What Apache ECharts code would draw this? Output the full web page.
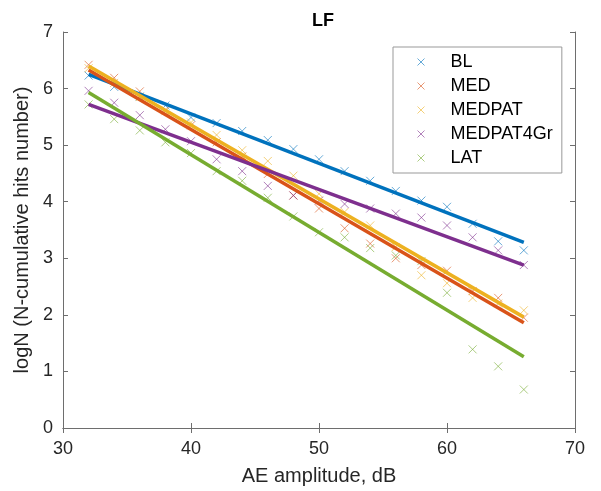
<!DOCTYPE html>
<html lang="en">
<head>
<meta charset="UTF-8">
<title>LF</title>
<script src="https://cdn.jsdelivr.net/npm/echarts@6/dist/echarts.min.js"></script>
<style>
  html, body { margin: 0; padding: 0; background: #fff; }
  #main { width: 601px; height: 491px; }
</style>
</head>
<body>
<div id="main"></div>
<script>
// amplitudes (dB)
var amp = [32, 34, 36, 38, 40, 42, 44, 46, 48, 50, 52, 54, 56, 58, 60, 62, 64, 66];

// logN values
var bl        = [6.23, 6.03, 5.86, 5.70, 5.49, 5.39, 5.25, 5.09, 4.93, 4.75, 4.54, 4.37, 4.19, 4.02, 3.91, 3.61, 3.30, 3.14];
var med       = [6.42, 6.19, 5.95, 5.62, 5.35, 5.05, 4.80, 4.49, 4.11, 3.88, 3.53, 3.26, 3.00, 2.88, 2.78, 2.42, 2.30, 1.95];
var medpat    = [6.36, 6.10, 5.85, 5.60, 5.40, 5.18, 4.91, 4.72, 4.46, 4.14, 3.82, 3.58, 3.20, 2.70, 2.56, 2.30, 2.20, 2.08];
var medpat4gr = [5.96, 5.75, 5.53, 5.28, 5.07, 4.75, 4.54, 4.28, 4.11, 4.02, 3.96, 3.88, 3.79, 3.72, 3.58, 3.37, 3.14, 2.88];
var lat       = [5.72, 5.46, 5.26, 5.05, 4.86, 4.54, 4.37, 4.07, 3.74, 3.46, 3.37, 3.18, 3.05, 2.95, 2.39, 1.39, 1.09, 0.68];

// fitted lines, endpoints at 32 and 66 dB
var fitX = [32, 66];
var fitBL        = [6.25, 3.28];
var fitMED       = [6.33, 1.86];
var fitMEDPAT    = [6.40, 1.96];
var fitMEDPAT4Gr = [5.72, 2.88];
var fitLAT       = [5.93, 1.26];

var names = ['BL', 'MED', 'MEDPAT', 'MEDPAT4Gr', 'LAT'];
var colors = ['#0072BD', '#D95319', '#EDB120', '#7E2F8E', '#77AC30'];
var points = [bl, med, medpat, medpat4gr, lat];
var fits = [fitBL, fitMED, fitMEDPAT, fitMEDPAT4Gr, fitLAT];

var cross = 'path://M0,0L10,10M10,0L0,10';
var font = 'Liberation Sans, Arial, sans-serif';
var axisColor = '#6e6e6e';
var textColor = '#262626';

function pairs(xs, ys) {
    return xs.map(function (x, i) { return [x, ys[i]]; });
}

var series = [];
for (var i = 0; i < names.length; i++) {
    series.push({
        name: names[i],
        type: 'scatter',
        data: pairs(amp, points[i]),
        symbol: cross,
        symbolSize: 8,
        itemStyle: { color: 'transparent', borderColor: colors[i], borderWidth: 1, opacity: 0.6 },
        z: 3
    });
}
for (var j = 0; j < names.length; j++) {
    series.push({
        name: names[j] + ' fit',
        type: 'line',
        data: pairs(fitX, fits[j]),
        symbol: 'none',
        lineStyle: { color: colors[j], width: 3.5 },
        z: 4
    });
}

var myChart = echarts.init(document.getElementById('main'));
var option = {
    animation: false,
    backgroundColor: '#fff',
    title: {
        text: 'LF',
        left: 318, top: 7, textAlign: 'center',
        textStyle: { fontFamily: font, fontSize: 18, fontWeight: 'bold', color: '#000' }
    },
    legend: {
        data: names.map(function (n, k) {
            return { name: n, icon: cross, itemStyle: { color: 'transparent', borderColor: colors[k], borderWidth: 1, opacity: 0.6 } };
        }),
        orient: 'vertical',
        left: 393, top: 47,
        padding: [6, 9, 6, 24],
        itemWidth: 7, itemHeight: 7,
        itemGap: 6,
        borderColor: '#999', borderWidth: 1,
        backgroundColor: '#fff',
        textStyle: { fontFamily: font, fontSize: 18, color: '#000', padding: [0, 0, 0, 21] }
    },
    grid: { left: 63, top: 32, width: 512, height: 399 },
    xAxis: [{
        type: 'value', min: 30, max: 70, interval: 10,
        name: 'AE amplitude, dB', nameLocation: 'middle', nameGap: 38,
        nameTextStyle: { fontFamily: font, fontSize: 20, color: textColor },
        axisLine: { lineStyle: { color: axisColor } },
        axisTick: { inside: true, length: 5, lineStyle: { color: axisColor } },
        axisLabel: { fontFamily: font, fontSize: 18, color: textColor, margin: 12 },
        splitLine: { show: false }
    }, {
        type: 'value', min: 30, max: 70, interval: 10, position: 'top',
        axisLine: { lineStyle: { color: axisColor } },
        axisTick: { inside: true, length: 5, lineStyle: { color: axisColor } },
        axisLabel: { show: false },
        splitLine: { show: false }
    }],
    yAxis: [{
        type: 'value', min: 0, max: 7, interval: 1,
        name: 'logN (N-cumulative hits number)', nameLocation: 'middle', nameGap: 28,
        nameTextStyle: { fontFamily: font, fontSize: 20, color: textColor },
        axisLine: { show: true, lineStyle: { color: axisColor } },
        axisTick: { show: true, inside: true, length: 5, lineStyle: { color: axisColor } },
        axisLabel: { fontFamily: font, fontSize: 18, color: textColor, margin: 10 },
        splitLine: { show: false }
    }, {
        type: 'value', min: 0, max: 7, interval: 1, position: 'right',
        axisLine: { show: true, lineStyle: { color: axisColor } },
        axisTick: { show: true, inside: true, length: 5, lineStyle: { color: axisColor } },
        axisLabel: { show: false },
        splitLine: { show: false }
    }],
    series: series
};
myChart.setOption(option);
</script>
</body>
</html>
